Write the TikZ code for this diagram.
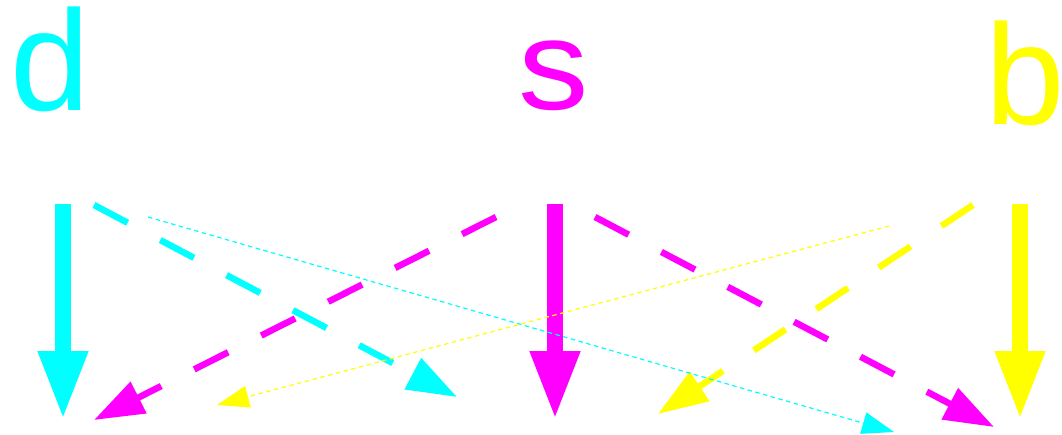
\documentclass[tikz,border=0pt]{standalone}
\usepackage{fontspec}
\setmainfont{Liberation Sans}
\usetikzlibrary{arrows.meta, positioning}
\definecolor{quarkd}{RGB}{0, 255, 255}
\definecolor{quarks}{RGB}{255, 0, 255}
\definecolor{quarkb}{RGB}{255, 255, 0}

\begin{document}
\begin{tikzpicture}[x=1pt, y=-1pt,
    flavour/.style={text=#1, inner sep=0pt, anchor=base},
    big/.style={font=\fontsize{143}{143}\selectfont},
    direct/.style={draw=#1, line width=16pt,
                   -{Triangle[length=69pt, width=46pt]}},
    mixing/.style={draw=#1, line width=6.5pt, dash pattern=on 38pt off 37pt,
                   -{Triangle[length=50pt, width=34pt]}},
    weak/.style={draw=#1, line width=1.2pt, dash pattern=on 4.5pt off 3.5pt,
                 -{Triangle[length=32pt, width=22pt]}},
]
    \useasboundingbox (0,0) rectangle (1062,435);

    % quark labels
    \node[flavour=quarkd, big] (d) at (50.4,111) {d};
    \node[flavour=quarks, font=\fontsize{128}{128}\selectfont]
        (s) at (554,110) {\scalebox{1.1}[1]{s}};
    \node[flavour=quarkb, big] (b) at (1025.5,125) {b};

    % arrow ends
    \coordinate (dtop) at (63,204);
    \coordinate (dbot) at (63,420);
    \coordinate (stop) at (555,204);
    \coordinate (sbot) at (555,420);
    \coordinate (btop) at (1020,204);
    \coordinate (bbot) at (1020,420);

    \coordinate (dout) at (94,205);
    \coordinate (sinl) at (457,397);
    \coordinate (soutl) at (496,217);
    \coordinate (dinr) at (94,420);
    \coordinate (soutr) at (595,217);
    \coordinate (binl) at (994,427);
    \coordinate (bout) at (973,205);
    \coordinate (sinr) at (658,414);
    \coordinate (dfar) at (148,217);
    \coordinate (bfarin) at (894,432);
    \coordinate (bfar) at (889,226);
    \coordinate (dfarin) at (217,405);

    % same flavour
    \draw[direct=quarkd] (dtop) -- (dbot);
    \draw[direct=quarks] (stop) -- (sbot);
    \draw[direct=quarkb] (btop) -- (bbot);

    % neighbour mixing
    \draw[mixing=quarkd] (dout) -- (sinl);
    \draw[mixing=quarks] (soutl) -- (dinr);
    \draw[mixing=quarks] (soutr) -- (binl);
    \draw[mixing=quarkb] (bout) -- (sinr);

    % d <-> b
    \draw[weak=quarkd] (dfar) -- (bfarin);
    \draw[weak=quarkb] (bfar) -- (dfarin);
\end{tikzpicture}
\end{document}
